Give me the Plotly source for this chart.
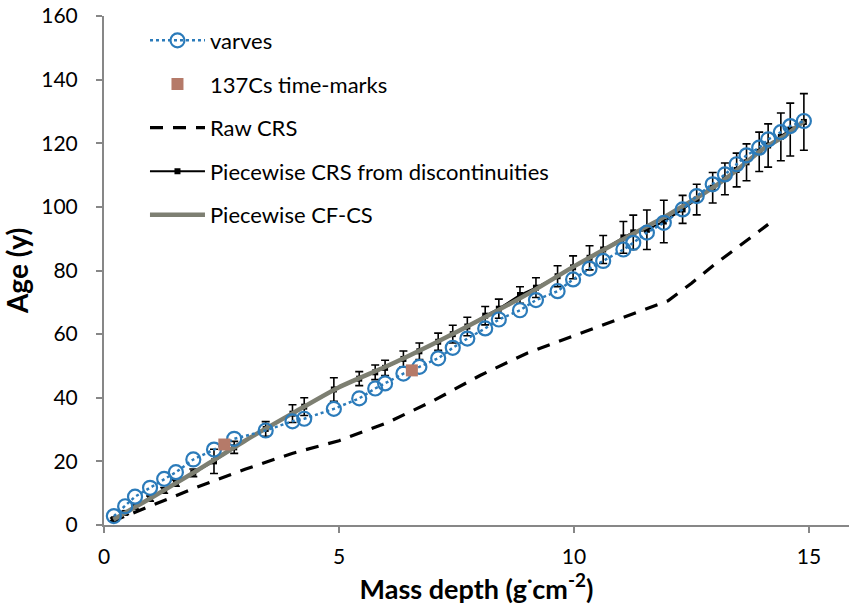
import plotly.graph_objects as go

# Varve chronology: mass depth (g cm-2) and age (y)
varve_depth = [0.21, 0.45, 0.66, 0.98, 1.28, 1.53, 1.90, 2.34, 2.77, 3.44, 4.01, 4.26, 4.89,
               5.43, 5.77, 5.98, 6.37, 6.71, 7.11, 7.42, 7.73, 8.11, 8.40, 8.85, 9.19, 9.65,
               9.98, 10.33, 10.62, 11.05, 11.26, 11.55, 11.91, 12.31, 12.61, 12.95, 13.21,
               13.46, 13.67, 13.94, 14.13, 14.40, 14.60, 14.89]
varve_age = [2.8, 5.9, 8.9, 11.7, 14.5, 16.6, 20.6, 23.7, 27.1, 29.7, 32.6, 33.4, 36.5,
             39.8, 42.9, 44.5, 47.6, 49.7, 52.4, 55.7, 58.6, 61.8, 64.6, 67.5, 70.7, 73.5,
             77.2, 80.6, 83.0, 86.6, 88.7, 91.9, 95.0, 99.2, 103.4, 107.1, 110.2,
             113.4, 116.2, 118.6, 121.2, 123.5, 125.4, 127.0]

# 137Cs time-marks
cs_depth = [2.56, 6.55]
cs_age = [25.3, 48.6]

# Raw CRS model
raw_depth = [0.17, 1.0, 2.0, 3.0, 4.0, 5.0, 6.0, 7.0, 8.0, 9.0, 10.0, 11.0, 12.0,
             12.5, 13.0, 13.5, 14.13]
raw_age = [1.1, 6.0, 12.0, 17.5, 22.5, 26.5, 32.0, 39.0, 47.0, 54.0, 59.5, 65.0, 70.5,
           76.0, 82.0, 87.5, 94.5]

# Piecewise CRS from discontinuities, with uncertainties
crs_depth = varve_depth
crs_age = [1.8, 3.8, 5.6, 8.3, 10.9, 13.2, 16.4, 20.0, 24.4, 30.2, 35.0, 37.2, 42.6,
           46.0, 48.0, 49.4, 52.2, 54.6, 57.6, 60.0, 62.4, 65.8, 68.0, 72.3, 74.6, 78.2,
           81.0, 84.0, 86.6, 90.4, 92.0, 92.8, 95.4, 99.2, 102.3, 106.0, 108.8,
           111.6, 114.0, 117.3, 119.3, 122.0, 124.3, 126.7]
crs_err = [0.4, 0.5, 0.6, 0.8, 0.9, 1.0, 1.2, 3.8, 1.9, 2.3, 2.8, 2.8, 3.7,
           2.2, 2.3, 2.4, 2.5, 2.6, 2.7, 2.8, 2.9, 2.9, 3.0, 2.6, 3.1, 3.3,
           3.6, 3.8, 4.4, 5.0, 5.4, 6.2, 6.7, 4.4, 4.8, 4.8, 5.0,
           5.3, 5.8, 6.2, 6.8, 7.5, 8.3, 8.9]

# Piecewise CF-CS model
cfcs_depth = [0.2, 1.0, 2.0, 3.0, 4.0, 5.0, 6.0, 7.0, 8.0, 9.0, 10.0, 11.0, 12.0,
              13.0, 13.5, 14.0, 14.5, 14.9]
cfcs_age = [1.7, 8.5, 17.3, 26.5, 35.0, 43.3, 49.8, 56.9, 64.5, 72.5, 81.3, 89.5, 97.5,
            106.5, 112.0, 118.0, 122.5, 127.0]

FONT = "Lato"
BLUE = "#2b7bba"

fig = go.Figure()

fig.add_trace(go.Scatter(
    x=raw_depth, y=raw_age, mode="lines", name="Raw CRS",
    line=dict(color="black", width=3.2, dash="13px,10px"),
    legendgroup="c", legendrank=3))

fig.add_trace(go.Scatter(
    x=crs_depth, y=crs_age, mode="markers", showlegend=False, hoverinfo="skip",
    marker=dict(size=1, color="black", opacity=0),
    error_y=dict(type="data", array=crs_err, color="black", thickness=1.6, width=4)))

fig.add_trace(go.Scatter(
    x=crs_depth, y=crs_age, mode="lines+markers", name="Piecewise CRS from discontinuities",
    line=dict(color="black", width=2),
    marker=dict(symbol="square", size=6, color="black"),
    legendgroup="d", legendrank=4))

fig.add_trace(go.Scatter(
    x=cfcs_depth, y=cfcs_age, mode="lines", name="Piecewise CF-CS",
    line=dict(color="#7d7f72", width=4.5, shape="spline", smoothing=0.6),
    legendgroup="e", legendrank=5))

fig.add_trace(go.Scatter(
    x=varve_depth, y=varve_age, mode="lines+markers", name="varves",
    line=dict(color=BLUE, width=2.5, dash="dot"),
    marker=dict(symbol="circle-open", size=14, color=BLUE, line=dict(width=2.2, color=BLUE)),
    legendgroup="a", legendrank=1))

fig.add_trace(go.Scatter(
    x=cs_depth, y=cs_age, mode="markers", name="137Cs time-marks",
    marker=dict(symbol="square", size=12, color="#b57a69"),
    legendgroup="b", legendrank=2))

axis_common = dict(
    showgrid=False, zeroline=False, showline=True, linecolor="#878787", linewidth=2,
    ticks="outside", ticklen=6, tickwidth=1.5, tickcolor="#878787",
    tickfont=dict(family=FONT, size=21, color="black"),
)

fig.update_layout(
    width=849, height=611,
    margin=dict(l=104, r=0, t=16, b=86),
    plot_bgcolor="white", paper_bgcolor="white",
    font=dict(family=FONT, color="black"),
    xaxis=dict(range=[0, 15.85], tickvals=[0, 5, 10, 15], ticklabelstandoff=6,
               title=dict(text="<b>Mass depth (g<sup>·</sup>cm<sup>-2</sup>)</b>",
                          font=dict(family=FONT, size=27), standoff=9),
               **axis_common),
    yaxis=dict(range=[0, 160], tickvals=list(range(0, 161, 20)), ticklabelstandoff=14,
               title=dict(text="<b>Age (y)</b>", font=dict(family=FONT, size=28), standoff=8),
               **axis_common),
    legend=dict(x=0.055, y=0.993, xanchor="left", yanchor="top",
                font=dict(family=FONT, size=22), bgcolor="rgba(0,0,0,0)",
                traceorder="grouped", tracegroupgap=12, itemwidth=55),
    showlegend=True,
)

fig.write_html("out.html")
